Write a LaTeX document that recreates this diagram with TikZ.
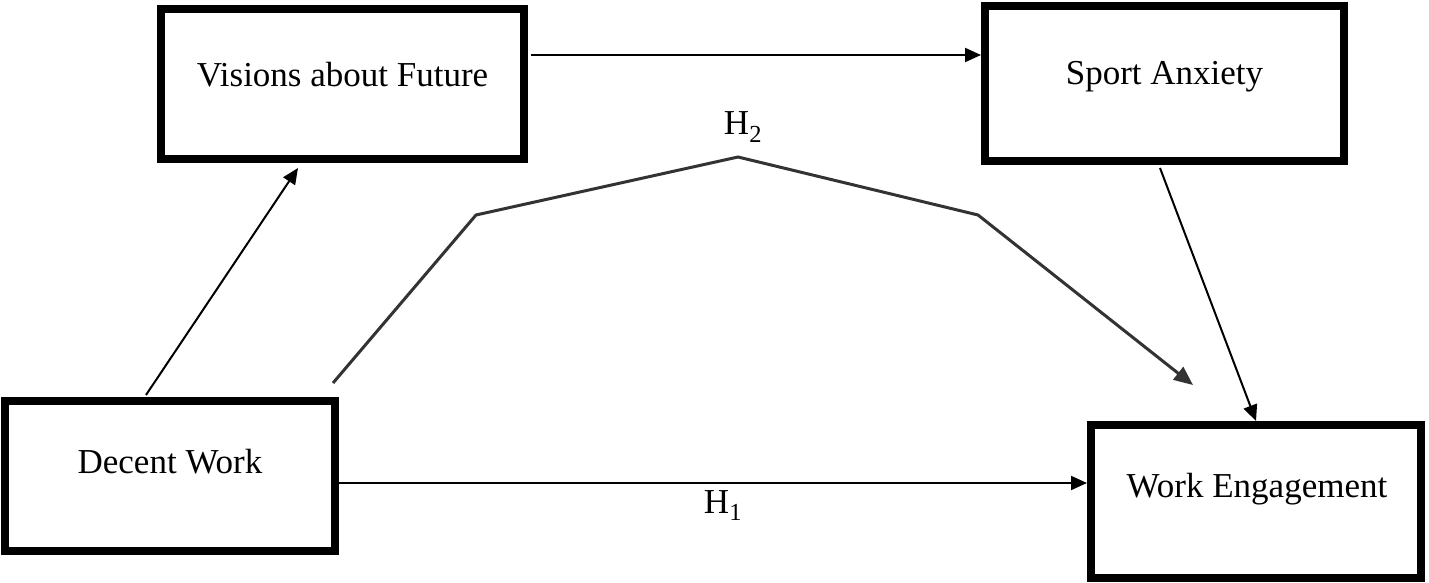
\documentclass[tikz,border=0pt]{standalone}
\usepackage{fontspec}
\setmainfont{Liberation Serif}
\usetikzlibrary{arrows.meta}
\begin{document}
\begin{tikzpicture}[x=1pt,y=-1pt,
  box/.style={draw=black,line width=8pt,rectangle,inner sep=0pt,outer sep=4pt},
  lbl/.style={font=\fontsize{35}{41}\selectfont,anchor=base,inner sep=0pt},
  arr/.style={line width=2pt,-{Triangle[length=16pt,width=14pt]}},
  harr/.style={line width=3pt,black!80,-{Triangle[length=19pt,width=16pt]}}]
\path[use as bounding box,fill=white] (0,0) rectangle (1429,583);
% boxes
\node[box,minimum width=330pt,minimum height=150pt] (dw) at (170,476) {};
\node[box,minimum width=363pt,minimum height=150pt] (vf) at (342.5,84) {};
\node[box,minimum width=359pt,minimum height=155pt] (sa) at (1164.5,83.5) {};
\node[box,minimum width=330pt,minimum height=153pt] (we) at (1256,501.5) {};
% texts
\node[lbl] (tdw) at (170,473) {Decent Work};
\node[lbl] (tvf) at (342.5,87) {Visions about Future};
\node[lbl] (tsa) at (1164.5,85) {Sport Anxiety};
\node[lbl] (twe) at (1257,497) {Work Engagement};
\node[lbl] (h2) at (743,135) {H\textsubscript{2}};
\node[lbl] (h1) at (723,513) {H\textsubscript{1}};
% connectors
\coordinate (c1) at (146,395);
\coordinate (c1e) at (298,168);
\draw[arr] (c1) -- (c1e);
\coordinate (c2) at (531,55);
\draw[arr] (c2) -- (c2 -| sa.west);
\coordinate (c3) at (1160,168);
\draw[arr] (c3) -- (we.north);
\coordinate (c4) at (0,483);
\draw[arr] (dw.east |- c4) -- (we.west |- c4);
\coordinate (p0) at (333,383);
\coordinate (p1) at (476,215);
\coordinate (p2) at (738,157);
\coordinate (p3) at (978,215);
\coordinate (p4) at (1193,385);
\draw[harr] (p0) -- (p1) -- (p2) -- (p3) -- (p4);
\end{tikzpicture}
\end{document}
